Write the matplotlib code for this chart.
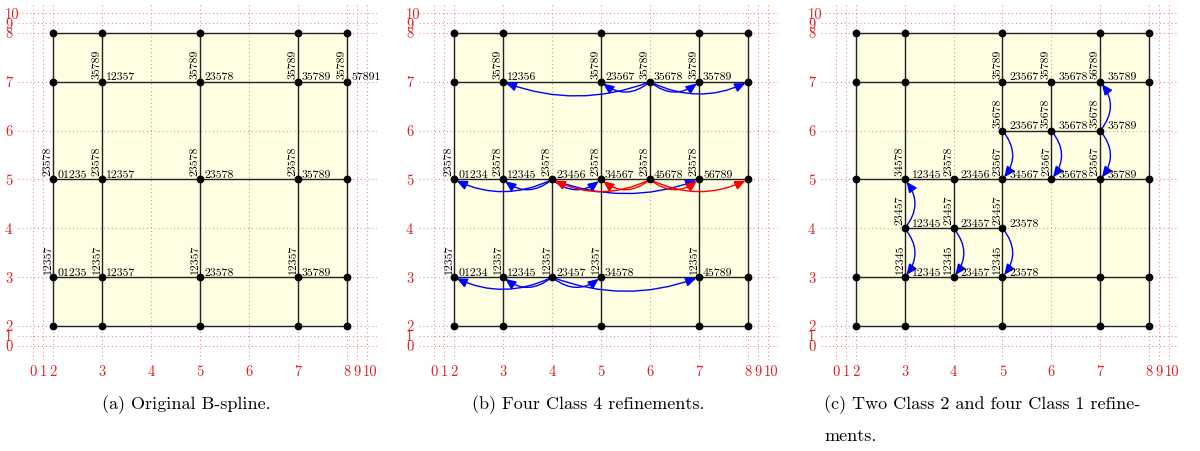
"""
T-spline refinement figure: three panels showing a B-spline mesh,
its local knot vectors and the refinement steps (arrows).
"""

import numpy as np
import matplotlib.pyplot as plt
from matplotlib.patches import Rectangle, FancyArrowPatch
from matplotlib.transforms import ScaledTranslation

plt.rcParams['font.family'] = ['cmr10', 'DejaVu Serif']
plt.rcParams['axes.formatter.use_mathtext'] = True

# ---- axis knots (index labels and their drawing positions) ----
tick_labels = [str(i) for i in range(11)]
tick_pos = [1.6, 1.8, 2, 3, 4, 5, 6, 7, 8, 8.2, 8.4]
domain = (2, 8)

# ---- panel (a): original B-spline ----
a_vlines = [(2, 2, 8), (3, 2, 8), (5, 2, 8), (7, 2, 8), (8, 2, 8)]
a_hlines = [(2, 2, 8), (3, 2, 8), (5, 2, 8), (7, 2, 8), (8, 2, 8)]
a_dots = {8: [2, 3, 5, 7, 8], 7: [2, 3, 5, 7, 8], 5: [2, 3, 5, 7, 8],
          3: [2, 3, 5, 7, 8], 2: [2, 3, 5, 7, 8]}
a_labels = [
    (3, 7, '35789', '12357'), (5, 7, '35789', '23578'),
    (7, 7, '35789', '35789'), (8, 7, '35789', '57891'),
    (2, 5, '23578', '01235'), (3, 5, '23578', '12357'),
    (5, 5, '23578', '23578'), (7, 5, '23578', '35789'),
    (2, 3, '12357', '01235'), (3, 3, '12357', '12357'),
    (5, 3, '12357', '23578'), (7, 3, '12357', '35789'),
]
a_arrows = []

# ---- panel (b): four class 4 refinements ----
b_vlines = [(2, 2, 8), (3, 2, 8), (4, 3, 5), (5, 2, 8), (6, 5, 7), (7, 2, 8), (8, 2, 8)]
b_hlines = [(2, 2, 8), (3, 2, 8), (5, 2, 8), (7, 2, 8), (8, 2, 8)]
b_dots = {8: [2, 3, 5, 7, 8], 7: [2, 3, 5, 6, 7, 8], 5: [2, 3, 4, 5, 6, 7, 8],
          3: [2, 3, 4, 5, 7, 8], 2: [2, 3, 5, 7, 8]}
b_labels = [
    (3, 7, '35789', '12356'), (5, 7, '35789', '23567'),
    (6, 7, '35789', '35678'), (7, 7, '35789', '35789'),
    (2, 5, '23578', '01234'), (3, 5, '23578', '12345'),
    (4, 5, '23578', '23456'), (5, 5, '23578', '34567'),
    (6, 5, '23578', '45678'), (7, 5, '23578', '56789'),
    (2, 3, '12357', '01234'), (3, 3, '12357', '12345'),
    (4, 3, '12357', '23457'), (5, 3, '12357', '34578'),
    (7, 3, '12357', '45789'),
]
b_arrows = [
    (6, 7, 3, 7, 'blue'), (6, 7, 5, 7, 'blue'), (6, 7, 7, 7, 'blue'), (6, 7, 8, 7, 'blue'),
    (4, 5, 2, 5, 'blue'), (4, 5, 3, 5, 'blue'), (4, 5, 5, 5, 'blue'), (4, 5, 7, 5, 'blue'),
    (6, 5, 4, 5, 'red'), (6, 5, 5, 5, 'red'), (6, 5, 7, 5, 'red'), (6, 5, 8, 5, 'red'),
    (4, 3, 2, 3, 'blue'), (4, 3, 3, 3, 'blue'), (4, 3, 5, 3, 'blue'), (4, 3, 7, 3, 'blue'),
]

# ---- panel (c): two class 2 and four class 1 refinements ----
c_vlines = [(2, 2, 8), (3, 2, 8), (4, 3, 5), (5, 2, 8), (6, 5, 7), (7, 2, 8), (8, 2, 8)]
c_hlines = [(2, 2, 8), (3, 2, 8), (4, 3, 5), (5, 2, 8), (6, 5, 7), (7, 2, 8), (8, 2, 8)]
c_dots = {8: [2, 3, 5, 7, 8], 7: [2, 3, 5, 6, 7, 8], 6: [5, 6, 7],
          5: [2, 3, 4, 5, 6, 7, 8], 4: [3, 4, 5], 3: [2, 3, 4, 5, 7, 8],
          2: [2, 3, 5, 7, 8]}
c_labels = [
    (5, 7, '35789', '23567'), (6, 7, '35789', '35678'), (7, 7, '56789', '35789'),
    (5, 6, '35678', '23567'), (6, 6, '35678', '35678'), (7, 6, '35678', '35789'),
    (3, 5, '34578', '12345'), (4, 5, '23578', '23456'), (5, 5, '23567', '34567'),
    (6, 5, '23567', '35678'), (7, 5, '23567', '35789'),
    (3, 4, '23457', '12345'), (4, 4, '23457', '23457'), (5, 4, '23457', '23578'),
    (3, 3, '12345', '12345'), (4, 3, '12345', '23457'), (5, 3, '12345', '23578'),
]
c_arrows = [
    (5, 6, 5, 5, 'blue'), (6, 6, 6, 5, 'blue'), (7, 6, 7, 5, 'blue'), (7, 6, 7, 7, 'blue'),
    (3, 4, 3, 5, 'blue'), (3, 4, 3, 3, 'blue'), (4, 4, 4, 3, 'blue'), (5, 4, 5, 3, 'blue'),
]

captions = ['(a) Original B-spline.', '(b) Four Class 4 refinements.',
            '(c) Two Class 2 and four Class 1 refine-', 'ments.']

PX = 0.72  # points per pixel at dpi=100
FILL = '#fefee3'
MESH = '#222222'
GRID_RED = '#ee8a8a'
TICK_RED = '#dd2020'
LABEL_FS = 8.5


def draw_panel(fig, rect, vlines, hlines, dots, labels, arrows, hoff):
    ax = fig.add_axes(rect)
    ax.set_xlim(2 - 35 / 49, 8 + 30 / 49)
    ax.set_ylim(2 - 34 / 48.8, 8 + 30 / 48.8)

    # 背景網格（紅色點線）與刻度
    ax.set_xticks(tick_pos)
    ax.set_xticklabels(tick_labels)
    ax.set_yticks(tick_pos)
    ax.set_yticklabels(tick_labels, ha='left')
    ax.tick_params(length=0, labelsize=10.5, labelcolor=TICK_RED)
    ax.tick_params(axis='x', pad=4)
    ax.tick_params(axis='y', pad=13 * PX)
    # 最後一個 x 刻度 "10" 稍微右移
    last = ax.get_xticklabels()[-1]
    last.set_transform(last.get_transform() + ScaledTranslation(3 / 100, 0, fig.dpi_scale_trans))
    ax.grid(True, linestyle=(0, (1, 2.5)), linewidth=0.8, color=GRID_RED)
    ax.set_axisbelow(True)
    for s in ax.spines.values():
        s.set_visible(False)
    ax.patch.set_alpha(0)

    # 參數域填色
    lo, hi = domain
    ax.add_patch(Rectangle((lo, lo), hi - lo, hi - lo, facecolor=FILL,
                           edgecolor='none', zorder=0.1))

    # 網格邊
    for x, y0, y1 in vlines:
        ax.plot([x, x], [y0, y1], color=MESH, lw=1.0, zorder=2)
    for y, x0, x1 in hlines:
        ax.plot([x0, x1], [y, y], color=MESH, lw=1.0, zorder=2)

    # 細化箭頭（向下或向右彎曲）
    for x0, y0, x1, y1, col in arrows:
        d = np.hypot(x1 - x0, y1 - y0)
        dip = 8 + 2 * d
        rad = np.sign((x1 - x0) + (y1 - y0)) * 2 * dip / (d * 49)
        arr = FancyArrowPatch((x0, y0), (x1, y1),
                              connectionstyle=f'arc3,rad={rad:.3f}',
                              arrowstyle='-|>,head_length=0.8,head_width=0.35',
                              mutation_scale=8, color=col, lw=1.0,
                              shrinkA=1, shrinkB=2, zorder=3)
        ax.add_patch(arr)

    # 頂點
    for y, xs in dots.items():
        ax.plot(xs, [y] * len(xs), 'o', color='black', ms=4.6, zorder=4)

    # 局部節點向量標籤
    for x, y, vlab, hlab in labels:
        ax.annotate(vlab, (x, y), xytext=(-0.3 * PX, 3 * PX), textcoords='offset points',
                    rotation=90, ha='right', va='bottom', fontsize=LABEL_FS,
                    color='black', zorder=5)
        ax.annotate(hlab, (x, y), xytext=(hoff * PX, 1.5 * PX), textcoords='offset points',
                    ha='left', va='baseline', fontsize=LABEL_FS, color='black', zorder=5)
    return ax


fig = plt.figure(figsize=(12, 4.51), dpi=100)
W, H = 1200, 451


def px_rect(left, top, right, bottom):
    return [left / W, 1 - bottom / H, (right - left) / W, (bottom - top) / H]


draw_panel(fig, px_rect(18, 3, 377, 360), a_vlines, a_hlines, a_dots, a_labels, a_arrows, 4)
draw_panel(fig, px_rect(419, 3, 778, 360), b_vlines, b_hlines, b_dots, b_labels, b_arrows, 4)
draw_panel(fig, px_rect(821, 3, 1179, 360), c_vlines, c_hlines, c_dots, c_labels, c_arrows, 7)

# 子圖說明
cap_x = [186, 588, 824, 824]
cap_y = [405, 405, 405, 436]
cap_ha = ['center', 'center', 'left', 'left']
for txt, x, y, ha in zip(captions, cap_x, cap_y, cap_ha):
    fig.text(x / W, 1 - y / H, txt, ha=ha, va='center', fontsize=13)

fig.savefig('out.png', dpi=100, facecolor='white')
plt.close(fig)
